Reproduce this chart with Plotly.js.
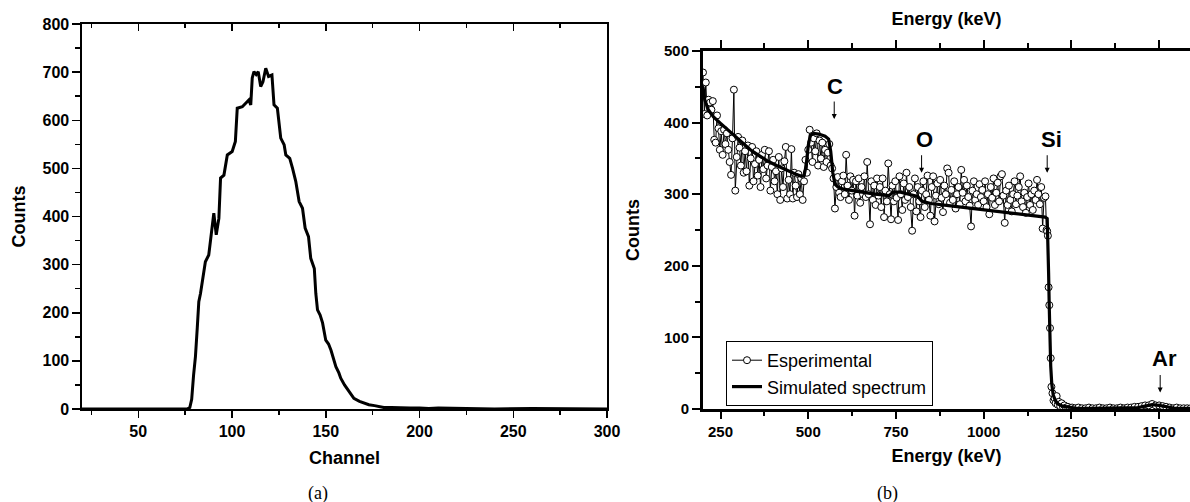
<!DOCTYPE html>
<html><head><meta charset="utf-8">
<script src="https://cdn.plot.ly/plotly-3.0.1.min.js"></script>
<style>html,body{margin:0;padding:0;background:#fff}#chart{width:1190px;height:502px}</style>
</head><body><div id="chart"></div>
<script>
// ---------- Panel (a): channel spectrum ----------
const chA = [20, 50, 76, 77.5, 78.5, 79.5, 80.5, 81.5, 82.3, 83.2, 84, 85, 85.8, 87.6, 89, 90.3, 91.6, 93, 93.9, 95.7,
  97.5, 100.1, 101.8, 102.8, 105.5, 107.3, 109, 110, 110.8, 111.7, 112.9, 114, 115.3, 116.5, 118, 119.5, 121.3, 122.4, 124.2, 126,
  127.8, 128.7, 130.8, 132.3, 134, 135.8, 137.6, 139, 140.8, 142, 143.9, 144.7, 145.6, 147, 148.3, 150, 151.5, 152.8, 154, 155.4,
  157, 158, 160, 161.7, 163, 165, 168, 170.6, 173, 176, 178, 181, 185, 190, 195, 200, 205, 210, 220, 230, 240, 260, 280, 300];
const cntA = [0, 0, 0, 3, 20, 70, 109, 170, 223, 240, 262, 290, 306, 320, 362, 407, 362, 396, 480, 486,
  528, 535, 556, 625, 628, 635, 642, 632, 688, 701, 695, 701, 670, 680, 708, 691, 694, 632, 625, 563,
  549, 528, 521, 500, 473, 431, 417, 376, 358, 313, 292, 240, 206, 195, 179, 143, 135, 122, 105, 88,
  75, 64, 50, 40, 32, 22, 16, 12, 9, 7, 5, 3, 3, 2, 2, 2, 1, 2, 1, 1, 0, 1, 0, 0];
const ticksA_x = [50, 100, 150, 200, 250, 300];
const ticksA_y = [0, 100, 200, 300, 400, 500, 600, 700, 800];

// ---------- Panel (b): RBS spectrum ----------
const simE = [200, 205, 215, 230, 250, 270, 290, 310, 335, 360, 385, 410, 435, 460, 480, 488, 494, 500, 506, 515,
  530, 548, 558, 564, 570, 576, 585, 600, 640, 690, 730, 742, 760, 790, 812, 824, 850, 900, 990, 1090,
  1175, 1181, 1183, 1185, 1187, 1189, 1191, 1194, 1198, 1204, 1212, 1225, 1245, 1265, 1300, 1400, 1440, 1460, 1480, 1500,
  1520, 1545, 1600];
const simC = [450, 432, 418, 408, 399, 390, 381, 372, 362, 354, 346, 340, 334, 329, 325, 326, 340, 368, 382, 385,
  384, 381, 377, 360, 330, 314, 310, 307, 304, 300, 298, 303, 303, 300, 297, 290, 287, 284, 279, 273,
  268, 266, 240, 190, 140, 95, 60, 35, 20, 12, 7, 4, 2, 1, 1, 1, 2, 4, 6, 5,
  3, 1, 1];

const expE = [
  200,204,208,212,216,220,224,228,232,236,240,244,248,252,256,260,264,268,272,276,280,284,288,292,296,
  300,304,308,312,316,320,324,328,332,336,340,344,348,352,356,360,364,368,372,376,380,384,388,392,396,
  400,404,408,412,416,420,424,428,432,436,440,444,448,452,456,460,464,468,472,476,480,484,488,492,496,
  500,504,508,512,516,520,524,528,532,536,540,544,548,552,556,560,564,568,572,576,580,584,588,592,596,
  600,604,608,612,616,620,624,628,632,636,640,644,648,652,656,660,664,668,672,676,680,684,688,692,696,
  700,704,708,712,716,720,724,728,732,736,740,744,748,752,756,760,764,768,772,776,780,784,788,792,796,
  800,804,808,812,816,820,824,828,832,836,840,844,848,852,856,860,864,868,872,876,880,884,888,892,896,
  900,904,908,912,916,920,924,928,932,936,940,944,948,952,956,960,964,968,972,976,980,984,988,992,996,
  1000,1004,1008,1012,1016,1020,1024,1028,1032,1036,1040,1044,1048,1052,1056,1060,1064,1068,1072,1076,1080,1084,1088,1092,1096,
  1100,1104,1108,1112,1116,1120,1124,1128,1132,1136,1140,1144,1148,1152,1156,1160,1164,1168,1172,1176,
  1179,1181,1183,1185,1187,1189,1191,1193,1196,1199,
  1202,1205,1208,1211,1214,1218,1222,1226,1230,1235,1240,1246,1252,1260,1270,1280,1290,1300,1310,1320,
  1330,1340,1350,1360,1370,1380,1390,1400,1410,1420,1430,1440,1450,1460,1470,1480,1490,1500,1510,1520,
  1530,1540,1550,1560,1570,1580,1590];
const expC = [
  470,412,456,410,432,428,418,430,376,372,410,392,362,388,355,390,370,385,362,345,327,378,446,305,352,
  380,365,340,375,330,360,332,368,312,350,366,318,342,360,326,348,310,355,335,362,322,340,360,305,338,
  348,318,332,300,352,292,336,310,346,366,294,320,300,363,294,330,312,296,328,300,322,292,318,348,330,
  362,390,372,345,378,360,385,340,375,350,372,338,362,345,358,370,340,336,322,280,310,324,302,296,318,
  326,300,355,312,292,325,305,320,270,318,298,322,288,310,300,325,296,345,300,258,318,292,312,285,322,
  298,310,282,322,268,305,290,343,300,265,312,290,318,295,264,325,300,278,315,292,330,296,310,282,249,
  300,322,276,310,290,268,305,318,282,300,326,292,270,310,325,262,298,315,286,320,295,275,312,300,336,
  330,288,306,292,318,280,300,310,286,334,302,320,290,312,296,284,255,305,318,292,300,285,314,296,306,
  290,318,282,300,272,310,295,322,285,302,316,290,325,328,298,260,305,285,312,292,276,300,318,286,298,
  310,325,290,282,302,274,296,315,285,300,278,305,292,320,300,286,310,252,295,297,
  250,248,242,170,145,113,71,31,22,12,
  15,8,18,6,10,4,8,3,5,2,3,1,2,1,2,1,1,2,1,1,
  2,1,1,2,1,1,2,1,2,2,3,3,4,5,5,7,5,5,4,3,
  2,1,2,1,1,1,1];
const ticksB_x = [250, 500, 750, 1000, 1250, 1500];
const ticksB_y = [0, 100, 200, 300, 400, 500];

// element markers
const elemLabels = ['C', 'O', 'Si', 'Ar'];
const elemLabelE = [577, 831, 1192, 1514];
const elemLabelC = [451, 377, 377, 70];
const elemArrowE = [574, 823, 1181, 1503];
const elemArrowTip = [405, 330, 330, 23];

const seriesNames = ['Esperimental', 'Simulated spectrum'];

// ---------- layout helpers ----------
const W = 1190, H = 502;
const F = 'Liberation Sans, Arial, Helvetica, sans-serif';
const SERIF = 'Liberation Serif, Times New Roman, serif';
const bold = (s) => ({family: F, size: s, color: '#000', weight: 'bold'});

const traces = [
  {x: chA, y: cntA, xaxis: 'x', yaxis: 'y', type: 'scatter', mode: 'lines',
   line: {color: '#000', width: 3}, showlegend: false, hoverinfo: 'skip'},
  {x: [null], y: [null], xaxis: 'x3', yaxis: 'y', type: 'scatter', mode: 'lines', showlegend: false, hoverinfo: 'skip'},
  {x: expE, y: expC, xaxis: 'x2', yaxis: 'y2', type: 'scatter', mode: 'lines+markers', name: seriesNames[0],
   line: {color: '#000', width: 1},
   marker: {symbol: 'circle', size: 7, color: '#fff', line: {color: '#000', width: 1}}},
  {x: simE, y: simC, xaxis: 'x2', yaxis: 'y2', type: 'scatter', mode: 'lines', name: seriesNames[1],
   line: {color: '#000', width: 3.2}},
  {x: [null], y: [null], xaxis: 'x4', yaxis: 'y2', type: 'scatter', mode: 'lines', showlegend: false, hoverinfo: 'skip'}
];

const annotations = [];
for (let i = 0; i < elemLabels.length; i++) {
  annotations.push({x: elemLabelE[i], y: elemLabelC[i], xref: 'x2', yref: 'y2', text: elemLabels[i],
    showarrow: false, font: bold(22), xanchor: 'center', yanchor: 'middle'});
  annotations.push({x: elemArrowE[i], y: elemArrowTip[i], xref: 'x2', yref: 'y2', text: '',
    showarrow: true, ax: 0, ay: -19, arrowhead: 2, arrowsize: 1, arrowwidth: 1, arrowcolor: '#000'});
}
annotations.push({x: 318 / W, y: 1 - 493 / H, xref: 'paper', yref: 'paper', text: '(a)', showarrow: false,
  font: {family: SERIF, size: 18, color: '#000'}, xanchor: 'center', yanchor: 'middle'});
annotations.push({x: 887 / W, y: 1 - 493 / H, xref: 'paper', yref: 'paper', text: '(b)', showarrow: false,
  font: {family: SERIF, size: 18, color: '#000'}, xanchor: 'center', yanchor: 'middle'});

const layout = {
  width: W, height: H, margin: {l: 0, r: 0, t: 0, b: 0},
  paper_bgcolor: '#fff', plot_bgcolor: 'rgba(0,0,0,0)',
  showlegend: true,
  legend: {x: 726 / W, y: 1 - 341 / H, xanchor: 'left', yanchor: 'top', bgcolor: '#fff',
    bordercolor: '#000', borderwidth: 1, font: {family: F, size: 18, color: '#000'},
    tracegroupgap: 0, itemwidth: 30},
  // panel (a)
  xaxis: {domain: [82 / W, 607 / W], range: [20, 300], anchor: 'y', tickmode: 'array', tickvals: ticksA_x,
    ticks: 'outside', ticklen: 7, tickwidth: 1.5, tickcolor: '#000', showline: true, linewidth: 1.6,
    linecolor: '#000', mirror: true, showgrid: false, zeroline: false, tickfont: bold(16),
    minor: {tick0: 0, dtick: 25, ticks: 'outside', ticklen: 4, tickwidth: 1.5, tickcolor: '#000', showgrid: false},
    title: {text: 'Channel', font: bold(18), standoff: 12}},
  xaxis3: {overlaying: 'x', side: 'top', anchor: 'y', range: [20, 300], tickmode: 'array', tickvals: ticksA_x,
    ticks: 'inside', ticklen: 7, tickwidth: 1.5, tickcolor: '#000', showline: false, showgrid: false,
    zeroline: false, showticklabels: false,
    minor: {tick0: 0, dtick: 25, ticks: 'inside', ticklen: 4, tickwidth: 1.5, tickcolor: '#000', showgrid: false}},
  yaxis: {domain: [1 - 409 / H, 1 - 24 / H], range: [0, 800], anchor: 'x', tickmode: 'array', tickvals: ticksA_y,
    ticks: 'outside', ticklen: 8, tickwidth: 1.5, tickcolor: '#000', showline: true, linewidth: 1.6,
    linecolor: '#000', mirror: true, showgrid: false, zeroline: false, tickfont: bold(16),
    minor: {tick0: 0, dtick: 50, ticks: 'outside', ticklen: 5, tickwidth: 1.5, tickcolor: '#000', showgrid: false},
    title: {text: 'Counts', font: bold(18), standoff: 12}},
  // panel (b)
  xaxis2: {domain: [703 / W, 1], range: [200, 1588], anchor: 'y2', tickmode: 'array', tickvals: ticksB_x,
    ticks: 'outside', ticklen: 7, tickwidth: 2, tickcolor: '#000', showline: true, linewidth: 3,
    linecolor: '#000', showgrid: false, zeroline: false, tickfont: bold(15),
    minor: {tick0: 0, dtick: 125, ticks: 'outside', ticklen: 4, tickwidth: 2, tickcolor: '#000', showgrid: false},
    title: {text: 'Energy (keV)', font: bold(18), standoff: 11}},
  xaxis4: {overlaying: 'x2', side: 'top', anchor: 'y2', range: [200, 1588], tickmode: 'array', tickvals: ticksB_x,
    ticks: 'outside', ticklen: 8, tickwidth: 2, tickcolor: '#000', showline: true, linewidth: 3,
    linecolor: '#000', showgrid: false, zeroline: false, showticklabels: false,
    minor: {tick0: 0, dtick: 125, ticks: 'outside', ticklen: 5, tickwidth: 2, tickcolor: '#000', showgrid: false},
    title: {text: 'Energy (keV)', font: bold(18), standoff: 10}},
  yaxis2: {domain: [1 - 409 / H, 1 - 51 / H], range: [0, 500], anchor: 'x2', tickmode: 'array', tickvals: ticksB_y,
    ticks: 'outside', ticklen: 8, tickwidth: 2, tickcolor: '#000', showline: true, linewidth: 3,
    linecolor: '#000', showgrid: false, zeroline: false, tickfont: bold(15),
    minor: {tick0: 0, dtick: 50, ticks: 'outside', ticklen: 5, tickwidth: 2, tickcolor: '#000', showgrid: false},
    title: {text: 'Counts', font: bold(18), standoff: 20}},
  annotations: annotations
};

Plotly.newPlot('chart', traces, layout, {displayModeBar: false, staticPlot: true});
</script>
</body></html>
